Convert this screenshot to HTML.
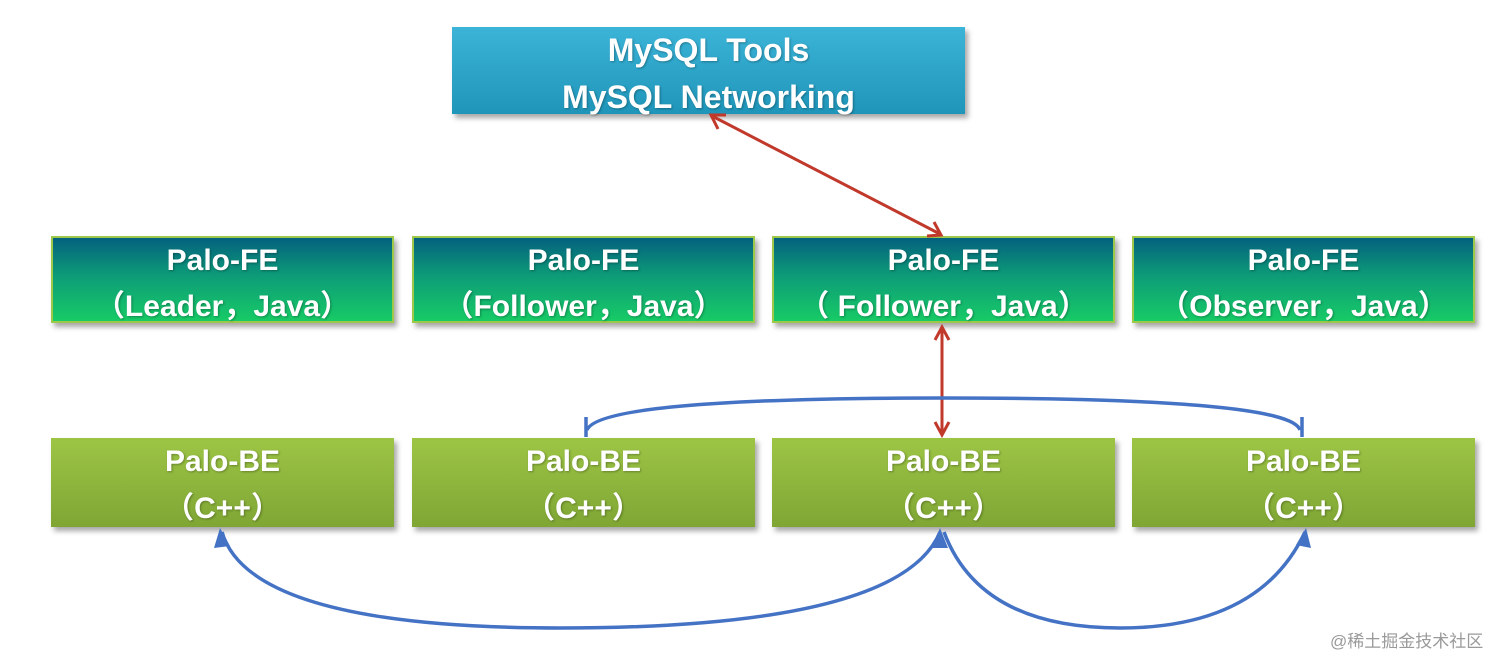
<!DOCTYPE html>
<html><head><meta charset="utf-8"><style>
body{margin:0;width:1512px;height:670px;background:#fff;position:relative;overflow:hidden;font-family:"Liberation Sans","Noto Sans CJK SC",sans-serif}
.b{position:absolute;color:#fff;font-weight:bold;text-align:center;font-size:30px;box-shadow:3px 4px 5px rgba(0,0,0,.35);text-shadow:1px 1px 2px rgba(0,0,0,.3);box-sizing:border-box}
.top{left:452px;top:27px;width:513px;height:87px;background:linear-gradient(#3bb4d8,#1f95b9);line-height:47px;font-size:32px;padding-top:-2px}
.fe{top:236px;width:343px;height:87px;background:linear-gradient(#04617e,#0d9b78 45%,#17cb66);border:2px solid #9dc84a;line-height:46px}
.be{top:438px;width:343px;height:89px;background:linear-gradient(#9dc545,#7fa634);line-height:47px}
.wm{position:absolute;left:1330px;top:627px;color:#9a9a9a;font-size:17px}
</style></head><body>
<div class="b top">MySQL Tools<br>MySQL Networking</div>
<div class="b fe" style="left:51px">Palo-FE<br>（Leader，Java）</div>
<div class="b fe" style="left:412px">Palo-FE<br>（Follower，Java）</div>
<div class="b fe" style="left:772px">Palo-FE<br>（ Follower，Java）</div>
<div class="b fe" style="left:1132px">Palo-FE<br>（Observer，Java）</div>
<div class="b be" style="left:51px">Palo-BE<br>（C++）</div>
<div class="b be" style="left:412px">Palo-BE<br>（C++）</div>
<div class="b be" style="left:772px">Palo-BE<br>（C++）</div>
<div class="b be" style="left:1132px">Palo-BE<br>（C++）</div>
<svg width="1512" height="670" style="position:absolute;left:0;top:0">
<g stroke="#c0392b" stroke-width="3" fill="none">
<line x1="712" y1="116" x2="940" y2="234"/>
<polyline points="726,115 711,115 718,129"/>
<polyline points="927,236 941,235 934,222"/>
<line x1="942" y1="327" x2="942" y2="435"/>
<polyline points="935,340 942,327 949,340"/>
<polyline points="935,422 942,435 949,422"/>
</g>
<g stroke="#4472c4" stroke-width="3.5" fill="none">
<path d="M587,430 Q600,398 942,398 Q1290,398 1300,430"/>
<line x1="586" y1="417" x2="586" y2="437"/>
<line x1="1302" y1="417" x2="1302" y2="437"/>
<path d="M940,532 Q900,628 560,628 Q250,628 222,532"/>
<path d="M944,532 Q980,628 1120,628 Q1260,628 1305,532"/>
</g>
<g fill="#4472c4">
<polygon points="940,528 932,548 948,548"/>
<polygon points="220,528 214,548 230,546"/>
<polygon points="1306,528 1296,545 1311,548"/>
</g>
</svg>
<div class="wm">@稀土掘金技术社区</div>
</body></html>
